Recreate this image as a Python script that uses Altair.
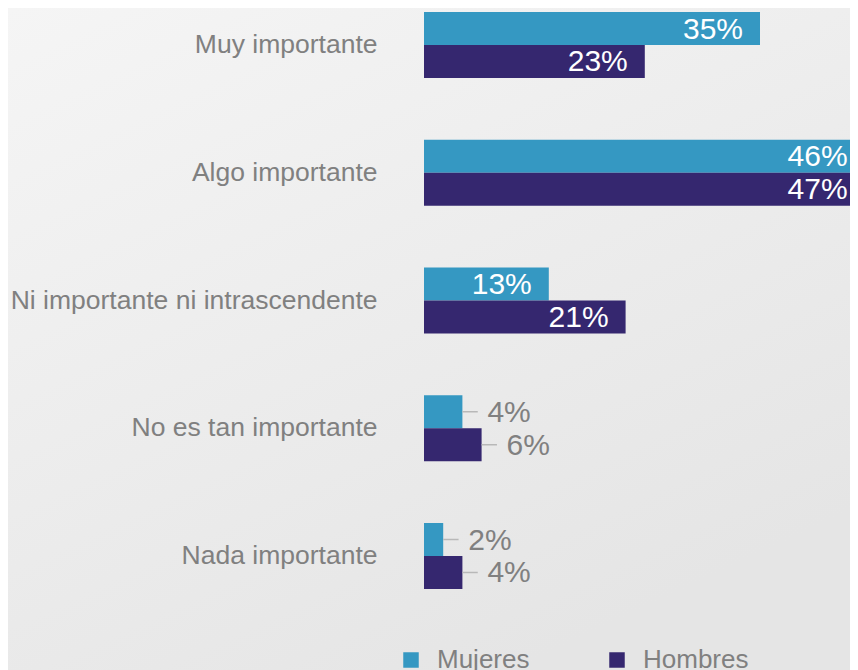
import altair as alt
import pandas as pd

categories = ["Muy importante", "Algo importante", "Ni importante ni intrascendente",
              "No es tan importante", "Nada importante"]
series = ["Mujeres", "Hombres"]
mujeres = [35, 46, 13, 4, 2]
hombres = [23, 47, 21, 6, 4]
colors = ["#3598c2", "#35276f"]

rows = []
for c, m, h in zip(categories, mujeres, hombres):
    rows.append({"cat": c, "serie": "Mujeres", "val": m})
    rows.append({"cat": c, "serie": "Hombres", "val": h})
df = pd.DataFrame(rows)
df["label"] = df["val"].astype(str) + "%"

FONT = "Liberation Sans"
LEFT = 416
W = 426
H = 662
XMAX = W / 9.6

xscale = alt.Scale(domain=[0, XMAX], nice=False, zero=True)
yscale = alt.Scale(domain=categories, range=[-26.875, 611.875],
                   paddingInner=0.4834, paddingOuter=0.2417)
yoff = alt.YOffset("serie:N", sort=series, scale=alt.Scale(paddingInner=0, paddingOuter=0))

base = alt.Chart(df).encode(
    y=alt.Y("cat:N", sort=categories, scale=yscale,
            axis=alt.Axis(title=None, orient="left", domain=False, ticks=False,
                          labelPadding=47, labelFontSize=26.5, labelColor="#808080",
                          labelFont=FONT, labelLimit=600, grid=False, zindex=1)),
    yOffset=yoff,
)

bg = alt.Chart(pd.DataFrame({"a": [0]})).mark_rect(
    fill=alt.Gradient(gradient="linear",
                      stops=[alt.GradientStop(color="#f5f5f5", offset=0),
                             alt.GradientStop(color="#ededed", offset=0.5),
                             alt.GradientStop(color="#e5e5e5", offset=1)],
                      x1=0, y1=0, x2=0.6, y2=1)
).encode(x=alt.value(-LEFT), x2=alt.value(W), y=alt.value(0), y2=alt.value(H))

bars = base.mark_bar(clip=True).encode(
    x=alt.X("val:Q", scale=xscale, axis=None),
    color=alt.Color("serie:N", sort=series,
                    scale=alt.Scale(domain=series, range=colors),
                    legend=alt.Legend(title=None, orient="none", legendX=-26, legendY=639,
                                      direction="horizontal", symbolType="square",
                                      symbolSize=240, symbolStrokeWidth=0,
                                      labelFontSize=26, labelColor="#808080", labelFont=FONT,
                                      labelOffset=13, columnPadding=74, padding=0, zindex=1)),
)

inside = base.transform_filter("datum.val >= 10").transform_calculate(
    lx="min(datum.val, 45.9)"
).mark_text(
    align="right", baseline="middle", dx=-17, dy=1, color="white", fontSize=30, font=FONT
).encode(x=alt.X("lx:Q", scale=xscale), text="label:N")

outside = base.transform_filter("datum.val < 10").mark_text(
    align="left", baseline="middle", dx=25, dy=1, color="#808080", fontSize=30, font=FONT
).encode(x=alt.X("val:Q", scale=xscale), text="label:N")

leaders = base.transform_filter("datum.val < 10").transform_calculate(
    vend="datum.val + 1.6"
).mark_rule(color="#b8b8b8", strokeWidth=1.5).encode(
    x=alt.X("val:Q", scale=xscale), x2="vend:Q"
)

chart = alt.layer(bg, bars, leaders, inside, outside).properties(
    width=W, height=H,
    autosize=alt.AutoSizeParams(type="none"),
    padding={"left": LEFT, "top": 0, "right": 0, "bottom": 0},
).configure_view(stroke=None).configure(background="#ececec")

chart.save("out.html", embed_options={"renderer": "svg", "actions": False})
